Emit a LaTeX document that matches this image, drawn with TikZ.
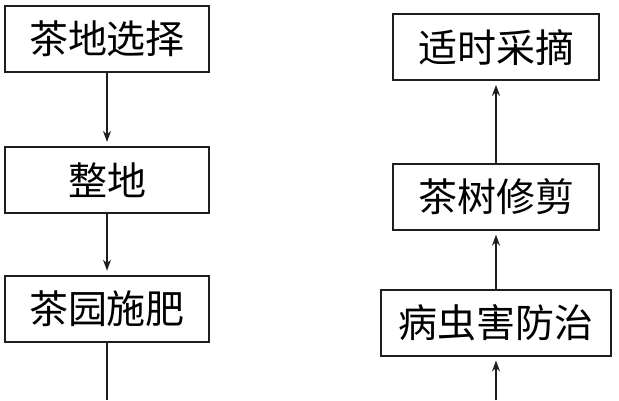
\documentclass[tikz,border=0pt]{standalone}
\usepackage{fontspec}
\usepackage{tikz}
\usetikzlibrary{arrows.meta, positioning}
\newfontfamily\cjk{Noto Sans CJK SC}
\definecolor{mydark}{RGB}{30,30,30}
\tikzset{
  stepbox/.style={rectangle, draw=mydark, fill=white,
    minimum width=204pt, minimum height=66pt, inner sep=0pt,
    font=\cjk\fontsize{39}{42}\selectfont, line width=1.8pt},
  arrow/.style={-{Stealth[length=11pt,width=8pt]}, line width=1.6pt,
    color=mydark, shorten >=4pt},
  line/.style={line width=1.6pt, color=mydark}
}

\begin{document}
\begin{tikzpicture}[x=1pt, y=1pt, node distance=73pt]
  \useasboundingbox (0,0) rectangle (619,-400);
  % left column
  \node[stepbox] (select) at (107,-39) {茶地选择};
  \node[stepbox, below=73pt of select] (level) {整地};
  \node[stepbox, below=61pt of level] (fert) {茶园施肥};
  \coordinate (lend) at (107,-400);
  % right column
  \node[stepbox, minimum width=206pt] (pick) at (496,-47) {适时采摘};
  \node[stepbox, minimum width=206pt, below=82pt of pick] (prune) {茶树修剪};
  \node[stepbox, minimum width=230pt, below=58pt of prune] (pest) {病虫害防治};
  \coordinate (rend) at (496,-400);

  \draw[arrow] (select)--(level);
  \draw[arrow] (level)--(fert);
  \draw[line] (fert)--(lend);
  \draw[arrow] (prune)--(pick);
  \draw[arrow] (pest)--(prune);
  \draw[arrow] (rend)--(pest);
\end{tikzpicture}
\end{document}
